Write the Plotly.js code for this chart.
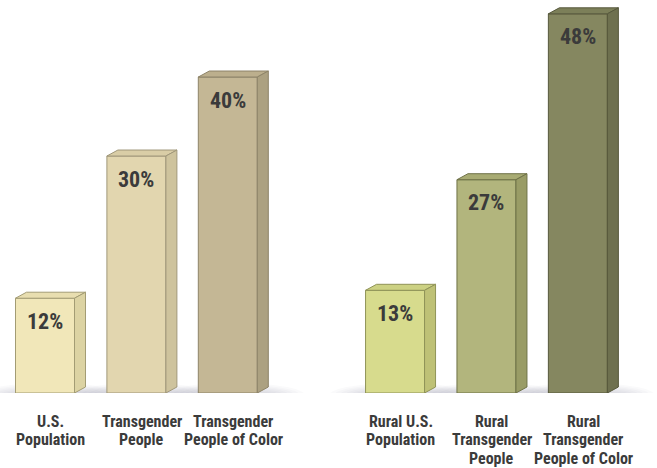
<!DOCTYPE html>
<html>
<head>
<meta charset="utf-8">
<script src="https://cdn.plot.ly/plotly-3.0.1.min.js"></script>
<style>html,body{margin:0;padding:0;background:#fff;}#chart{width:657px;height:468px;}</style>
</head>
<body>
<div id="chart"></div>
<script>
// ---- data ----
const categories = [
  "U.S.<br>Population",
  "Transgender<br>People",
  "Transgender<br>People of Color",
  "Rural U.S.<br>Population",
  "Rural<br>Transgender<br>People",
  "Rural<br>Transgender<br>People of Color"
];
const values = [12, 30, 40, 13, 27, 48];
const groups = [0, 0, 0, 1, 1, 1];

// ---- styles ----
const frontColors = ["#F1E7B9", "#E2D6AF", "#C4B795", "#D7DB8D", "#B2B57D", "#858760"];
const sideColors  = ["#DCD3A3", "#CEC39D", "#ACA181", "#BEC176", "#999C66", "#6E704F"];
const topColors   = ["#E8DEB0", "#D9CDA6", "#BCAF8D", "#CCD183", "#A8AB73", "#7C7F59"];
const edgeColors  = ["#A39C74", "#A0977A", "#8E8468", "#8F9358", "#6F7248", "#56583C"];

const W = 657, H = 468, mB = 75;
const plotH = H - mB;
const yMax = 49.75;
const pxPerX = 91.4;
const xMin = -45 / pxPerX, xMax = (W - 45) / pxPerX;
const barW = 59 / pxPerX;
const dx = 11 / pxPerX;
const dy = 6 / (plotH / yMax);
const groupGap = 0.83;

// pick an installed condensed face
function hasFont(name) {
  const c = document.createElement("canvas").getContext("2d");
  const s = "Transgender People of Color 0123456789%";
  c.font = "bold 40px monospace"; const a = c.measureText(s).width;
  c.font = "bold 40px '" + name + "', monospace"; const b = c.measureText(s).width;
  return Math.abs(a - b) > 1;
}
let fontFam, valSize, catSize;
if (hasFont("Roboto Condensed")) { fontFam = "'Roboto Condensed', sans-serif"; valSize = 22; catSize = 16; }
else if (hasFont("Liberation Sans Narrow")) { fontFam = "'Liberation Sans Narrow', sans-serif"; valSize = 21; catSize = 16; }
else { fontFam = "'DejaVu Sans Condensed', sans-serif"; valSize = 18; catSize = 12.5; }

const xs = values.map((v, i) => i + groups[i] * groupGap);

const traces = [];
traces.push({
  type: "bar", x: xs, y: values, width: barW,
  marker: {color: frontColors, line: {color: edgeColors, width: 1}},
  hoverinfo: "skip", showlegend: false
});
values.forEach((v, i) => {
  const xl = xs[i] - barW / 2, xr = xs[i] + barW / 2;
  traces.push({
    type: "scatter", mode: "lines", fill: "toself",
    x: [xl, xl + dx, xr + dx, xr, xl],
    y: [v, v + dy, v + dy, v, v],
    fillcolor: topColors[i], line: {color: edgeColors[i], width: 1},
    hoverinfo: "skip", showlegend: false
  });
  traces.push({
    type: "scatter", mode: "lines", fill: "toself",
    x: [xr, xr, xr + dx, xr + dx, xr],
    y: [0, v, v + dy, dy, 0],
    fillcolor: sideColors[i], line: {color: edgeColors[i], width: 1},
    hoverinfo: "skip", showlegend: false
  });
});

// soft shadows under bars
const shapes = [];
xs.forEach((x, i) => {
  for (let k = 0; k < 7; k++) {
    const sx = 0.42 + k * 0.06;
    const sy = 0.35 + k * 0.2;
    shapes.push({
      type: "circle", layer: "below", xref: "x", yref: "y",
      x0: x + dx / 2 - sx, x1: x + dx / 2 + sx,
      y0: -sy * 1.1, y1: sy * 0.8,
      fillcolor: "rgba(130,140,155,0.04)", line: {width: 0}
    });
  }
});

const annotations = [];
values.forEach((v, i) => {
  annotations.push({
    x: xs[i], y: v, xref: "x", yref: "y", text: "<b>" + v + "%</b>",
    showarrow: false, yanchor: "middle", yshift: -23,
    font: {family: fontFam, size: valSize, color: "#3B3B3B"}
  });
  categories[i].split("<br>").forEach((line, k) => {
    annotations.push({
      x: xs[i] + dx / 2, y: 0, xref: "x", yref: "y", text: "<b>" + line + "</b>",
      showarrow: false, yanchor: "middle", yshift: -(28.5 + k * 18.3),
      font: {family: fontFam, size: catSize, color: "#3B3B3B"}
    });
  });
});

const layout = {
  width: W, height: H,
  margin: {l: 0, r: 0, t: 0, b: mB, pad: 0},
  paper_bgcolor: "#FFFFFF", plot_bgcolor: "rgba(0,0,0,0)",
  xaxis: {range: [xMin, xMax], visible: false, fixedrange: true},
  yaxis: {range: [0, yMax], visible: false, fixedrange: true},
  barmode: "overlay",
  shapes: shapes, annotations: annotations,
  showlegend: false
};

Plotly.newPlot("chart", traces, layout, {staticPlot: true, displayModeBar: false});
</script>
</body>
</html>
